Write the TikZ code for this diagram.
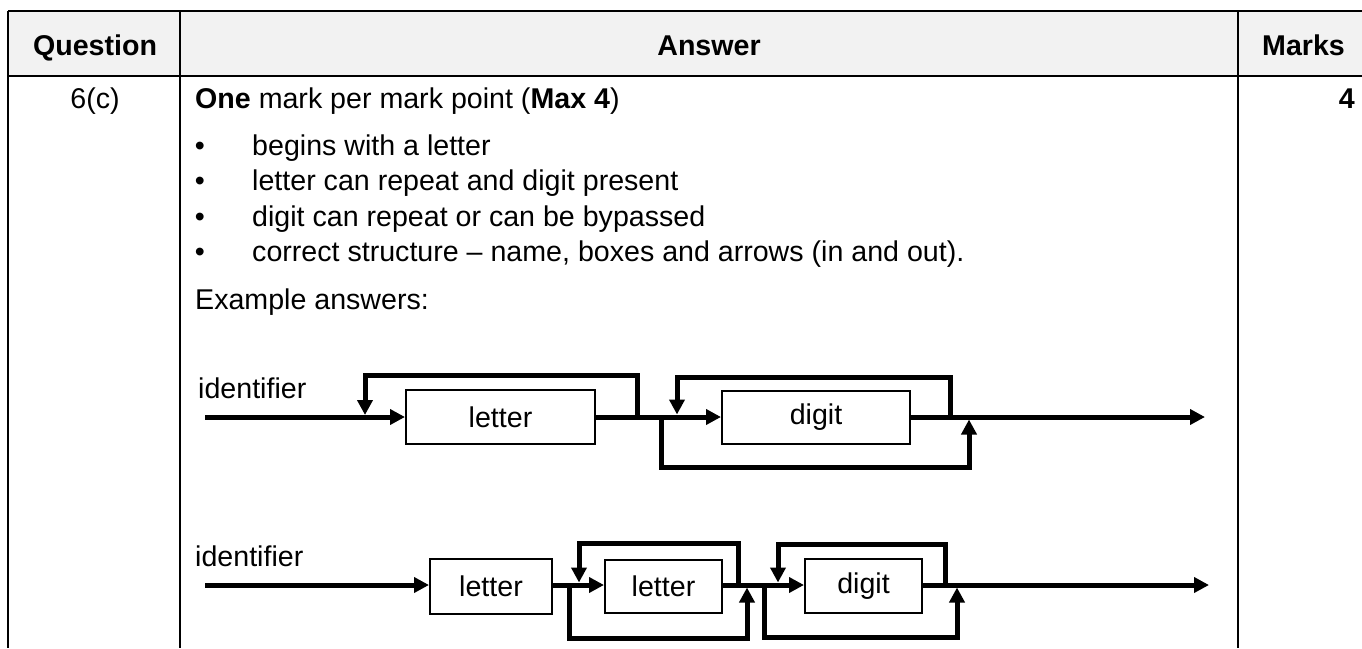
\documentclass[tikz,border=0pt]{standalone}
\usepackage{fontspec}
\setmainfont{Liberation Sans}
\usetikzlibrary{arrows.meta}
\definecolor{hdrfill}{HTML}{F2F2F2}
\begin{document}
\begin{tikzpicture}[x=1pt,y=-1pt,
  every node/.style={font=\fontsize{28.6}{35.5}\selectfont, inner sep=0pt},
  txt/.style={anchor=base west},
  hdr/.style={anchor=base, font=\fontsize{28.6}{35.5}\selectfont\bfseries},
  rule/.style={line width=2pt},
  flow/.style={line width=5pt, line join=miter},
  arr/.style={flow, -{Triangle[length=15pt,width=15pt]}},
  box/.style={draw, line width=2pt, fill=white}
]
\useasboundingbox (0,0) rectangle (1362,648);
% table
\fill[hdrfill] (8,11) rectangle (1362,76);
\draw[rule] (8,11) -- (1362,11);
\draw[rule] (8,76) -- (1362,76);
\draw[rule] (8,11) -- (8,648);
\draw[rule] (180,11) -- (180,648);
\draw[rule] (1238,11) -- (1238,648);
% header
\node[hdr] (hq) at (95,55) {Question};
\node[hdr] (ha) at (709,55) {Answer};
\node[hdr] (hm) at (1303.5,55) {Marks};
% row
\node[anchor=base] (q) at (95,108) {6(c)};
\node[txt] (intro) at (195,108) {\textbf{One} mark per mark point (\textbf{Max 4})};
\node[anchor=base east, font=\fontsize{28.6}{35.5}\selectfont\bfseries] (mk) at (1355,108) {4};
\node[anchor=base] (b1) at (200,155) {•};
\node[txt] (t1) at (252,155) {begins with a letter};
\node[anchor=base] (b2) at (200,190.5) {•};
\node[txt] (t2) at (252,190.5) {letter can repeat and digit present};
\node[anchor=base] (b3) at (200,226) {•};
\node[txt] (t3) at (252,226) {digit can repeat or can be bypassed};
\node[anchor=base] (b4) at (200,261.5) {•};
\node[txt] (t4) at (252,261.5) {correct structure – name, boxes and arrows (in and out).};
\node[txt] (ex) at (195,309) {Example answers:};
% ---------- diagram 1 ----------
\node[txt] (id1) at (198,398) {identifier};
\coordinate (s1) at (205,417);
\coordinate (e1) at (1205,417);
\node[box, minimum width=189pt, minimum height=54pt] (L1) at (500.5,417) {letter};
\node[box, minimum width=188pt, minimum height=53pt] (D1) at (816,417) {digit};
\draw[arr] (s1) -- (L1.west);
\draw[arr] (L1.east) -- (D1.west);
\draw[arr] (D1.east) -- (e1);
% letter loop
\coordinate (l1a) at (637,417);
\coordinate (l1b) at (365,415);
\draw[arr] (l1a) -- (l1a |- 0,375) -| (l1b);
% bypass
\coordinate (p1a) at (661,417);
\coordinate (p1b) at (969,419.5);
\draw[arr] (p1a) -- (p1a |- 0,467) -| (p1b);
% digit loop
\coordinate (d1a) at (950,417);
\coordinate (d1b) at (677,414.5);
\draw[arr] (d1a) -- (d1a |- 0,377) -| (d1b);
% ---------- diagram 2 ----------
\node[txt] (id2) at (195,566) {identifier};
\coordinate (s2) at (205,585);
\coordinate (e2) at (1209,585);
\node[box, minimum width=122pt, minimum height=55pt] (L2a) at (491,586) {letter};
\node[box, minimum width=117pt, minimum height=53pt] (L2b) at (663.5,586) {letter};
\node[box, minimum width=117pt, minimum height=54pt] (D2) at (863.5,586) {digit};
\draw[arr] (s2) -- (s2 -| L2a.west);
\draw[arr] (L2a.east |- s2) -- (s2 -| L2b.west);
\draw[arr] (L2b.east |- s2) -- (s2 -| D2.west);
\draw[arr] (D2.east |- s2) -- (e2);
% letter loop
\coordinate (l2a) at (738,585);
\coordinate (l2b) at (579,582.5);
\draw[arr] (l2a) -- (l2a |- 0,543) -| (l2b);
% letter bypass
\coordinate (p2a) at (569,585);
\coordinate (p2b) at (747,587.5);
\draw[arr] (p2a) -- (p2a |- 0,638) -| (p2b);
% digit loop
\coordinate (d2a) at (945,585);
\coordinate (d2b) at (778,582.5);
\draw[arr] (d2a) -- (d2a |- 0,544) -| (d2b);
% digit bypass
\coordinate (q2a) at (764,585);
\coordinate (q2b) at (957,587.5);
\draw[arr] (q2a) -- (q2a |- 0,637) -| (q2b);
\end{tikzpicture}
\end{document}
